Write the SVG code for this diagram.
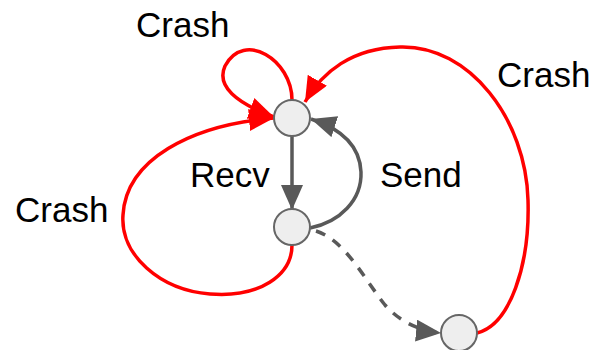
<svg xmlns="http://www.w3.org/2000/svg" width="599" height="350" viewBox="0 0 599 350">
<style>
.lbl{font-family:"Liberation Sans",Arial,sans-serif;font-size:35px;fill:#000}
.node{fill:#eeeeee;stroke:#666666;stroke-width:2}
.red{fill:none;stroke:#ff0000;stroke-width:3.5}
.gray{fill:none;stroke:#595959;stroke-width:3.5}
</style>
<defs>
<marker id="ar" markerUnits="userSpaceOnUse" markerWidth="28" markerHeight="24" refX="25" refY="11" orient="auto">
<path d="M0,0 L25,11 L0,22 Z" fill="#ff0000"/>
</marker>
<marker id="ag" markerUnits="userSpaceOnUse" markerWidth="28" markerHeight="24" refX="25" refY="11" orient="auto">
<path d="M0,0 L25,11 L0,22 Z" fill="#595959"/>
</marker>
</defs>
<g id="connectors">
<path class="red" d="M292,100 C292,60 244,30 225,66 C216,86 236,103 274,117" marker-end="url(#ar)"/>
<path class="red" d="M292,245 C292,275 260,298 210,294 C160,290 120,255 123,215 C126,160 190,125 274,118" marker-end="url(#ar)"/>
<path class="red" d="M477,333 C510,325 530,265 528,200 C526,120 470,45 400,47 C352,48 322,72 305,102" marker-end="url(#ar)"/>
<path class="gray" d="M292,136 L292,210" marker-end="url(#ag)"/>
<path class="gray" d="M310,228 C340,222 362,200 361,172 C360,148 345,130 311,119" marker-end="url(#ag)"/>
<path class="gray" stroke-dasharray="10,9" d="M316,231 C345,240 365,280 385,305 C400,322 420,331 441,333" marker-end="url(#ag)"/>
</g>
<g id="n1"><circle class="node" cx="292" cy="118" r="18"/></g>
<g id="n2"><circle class="node" cx="292" cy="227" r="18"/></g>
<g id="n3"><circle class="node" cx="459" cy="333" r="18"/></g>
<g id="labels">
<text class="lbl" x="136" y="37">Crash</text>
<text class="lbl" x="497" y="87">Crash</text>
<text class="lbl" x="15" y="222">Crash</text>
<text class="lbl" x="190" y="187">Recv</text>
<text class="lbl" x="380" y="187">Send</text>
</g>
</svg>
